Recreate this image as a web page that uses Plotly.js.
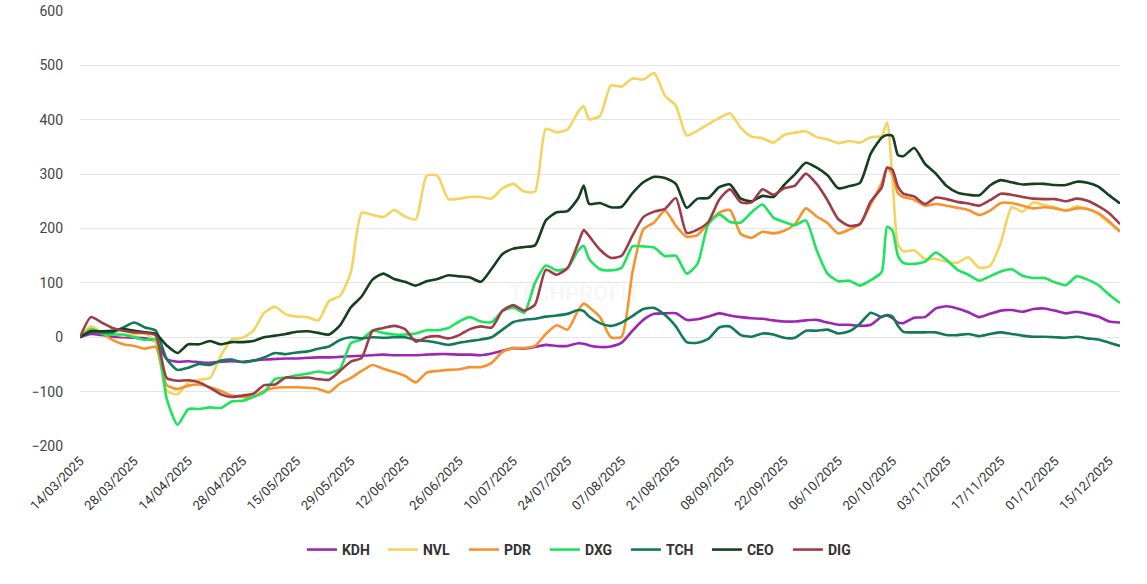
<!DOCTYPE html>
<html>
<head>
<meta charset="utf-8">
<script src="https://cdn.plot.ly/plotly-3.0.1.min.js"></script>
<style>
  html, body { margin: 0; padding: 0; background: #ffffff; }
  #chart { width: 1147px; height: 584px; }
</style>
</head>
<body>
<div id="chart"></div>
<script>
// ---- Trading calendar (HOSE trading days) ----
const firstDay = [2025, 3, 14];
const lastDay = [2025, 12, 17];
const holidays = ['07/04/2025', '30/04/2025', '01/05/2025', '02/05/2025', '01/09/2025', '02/09/2025'];

function fmt(d) {
  const dd = String(d.getUTCDate()).padStart(2, '0');
  const mm = String(d.getUTCMonth() + 1).padStart(2, '0');
  return dd + '/' + mm + '/' + d.getUTCFullYear();
}
const dates = [];
for (let d = new Date(Date.UTC(firstDay[0], firstDay[1] - 1, firstDay[2]));
     d <= new Date(Date.UTC(lastDay[0], lastDay[1] - 1, lastDay[2]));
     d.setUTCDate(d.getUTCDate() + 1)) {
  const wd = d.getUTCDay();
  const s = fmt(d);
  if (wd === 0 || wd === 6 || holidays.includes(s)) continue;
  dates.push(s);
}

// x-axis tick labels
const tickLabels = ['14/03/2025', '28/03/2025', '14/04/2025', '28/04/2025', '15/05/2025',
  '29/05/2025', '12/06/2025', '26/06/2025', '10/07/2025', '24/07/2025', '07/08/2025',
  '21/08/2025', '08/09/2025', '22/09/2025', '06/10/2025', '20/10/2025', '03/11/2025',
  '17/11/2025', '01/12/2025', '15/12/2025'];

// sampled sessions: every second session plus a few spike days
const extraDates = ['29/07/2025', '17/10/2025', '21/10/2025'];
const sampleDates = dates.filter((d, i) => i % 2 === 0 || extraDates.includes(d));

// ---- Series (% change from 14/03/2025) ----
const KDH = [0, 6, 4, 1, 0, -1, -2, -8, -40, -45,
  -44, -46, -47, -45, -44, -45, -43, -41, -40, -39,
  -39, -38, -37, -37, -36, -35, -34, -33, -32, -33,
  -33, -33, -32, -31, -31, -32, -32, -33, -30, -25,
  -20, -21, -18, -14, -16, -16, -11, -12, -15, -18, -17,
  -10, 12, 32, 43, 44, 44, 32, 33, 38, 44,
  40, 37, 35, 34, 31, 29, 29, 31, 32, 27,
  23, 23, 21, 23, 38, 40, 35, 27, 26, 36, 37, 53,
  57, 53, 46, 37, 43, 49, 50, 47, 52, 53,
  49, 44, 47, 43, 38, 29, 27];

const NVL = [0, 20, 9, 6, 3, 5, 7, -10, -98, -105,
  -83, -78, -75, -34, -4, -1, 12, 45, 56, 42,
  38, 37, 31, 67, 76, 120, 229, 225, 221, 234,
  222, 217, 297, 297, 254, 255, 258, 258, 255, 274,
  282, 268, 268, 383, 377, 382, 415, 425, 401, 407, 463,
  461, 476, 474, 486, 444, 426, 371, 380, 392, 403,
  412, 385, 369, 366, 358, 372, 376, 379, 368, 364,
  357, 361, 358, 368, 370, 395, 290, 170, 158, 160, 144, 144,
  139, 137, 147, 128, 131, 174, 239, 231, 248, 243,
  239, 233, 241, 236, 227, 210, 196];

const PDR = [0, 15, 8, -5, -13, -16, -21, -18, -88, -95,
  -89, -87, -92, -99, -107, -110, -109, -99, -93, -92,
  -92, -93, -95, -101, -85, -75, -62, -51, -58, -64,
  -71, -83, -65, -62, -60, -59, -55, -55, -47, -27,
  -20, -20, -16, 6, 22, 14, 50, 62, 55, 37, 0,
  1, 120, 198, 211, 233, 205, 185, 188, 210, 229,
  234, 190, 183, 194, 191, 196, 208, 237, 222, 210,
  191, 198, 208, 245, 283, 312, 300, 265, 258, 253, 242, 245,
  242, 238, 234, 225, 233, 247, 247, 242, 237, 239,
  237, 233, 237, 236, 228, 213, 194];

const DXG = [0, 14, 7, 5, 5, 0, -5, -4, -113, -161,
  -132, -132, -129, -130, -118, -117, -110, -101, -77, -74,
  -70, -67, -63, -66, -58, -11, -4, 12, 8, 5,
  5, 7, 13, 13, 17, 29, 37, 29, 28, 48,
  55, 45, 100, 132, 123, 127, 160, 168, 144, 125, 123,
  128, 167, 167, 165, 149, 150, 117, 135, 208, 226,
  212, 211, 230, 244, 220, 212, 206, 215, 160, 117,
  103, 104, 95, 105, 120, 203, 196, 150, 137, 135, 139, 156,
  142, 124, 115, 104, 112, 121, 125, 113, 109, 109,
  101, 96, 112, 106, 96, 78, 63];

const TCH = [0, 10, 9, 9, 18, 27, 18, 12, -40, -60,
  -56, -49, -51, -43, -41, -46, -43, -37, -29, -31,
  -28, -26, -21, -17, -5, 0, -2, 0, -1, 0,
  0, -5, -7, -10, -14, -10, -7, -4, 0, 14,
  28, 32, 34, 38, 40, 43, 50, 48, 38, 26, 21,
  27, 39, 52, 54, 41, 20, -9, -10, -3, 18,
  20, 4, 1, 7, 5, -1, -1, 12, 12, 14,
  7, 11, 25, 45, 37, 41, 38, 21, 10, 9, 9, 9,
  4, 4, 6, 2, 6, 9, 6, 3, 1, 1,
  0, -1, 1, -2, -4, -10, -16];

const CEO = [0, 11, 11, 12, 15, 12, 9, 6, -15, -29,
  -13, -13, -7, -13, -9, -9, -7, 0, 3, 6,
  10, 11, 8, 5, 22, 55, 75, 106, 117, 107,
  102, 95, 103, 107, 114, 112, 110, 102, 126, 153,
  163, 166, 169, 215, 230, 232, 256, 279, 245, 247, 239,
  240, 265, 285, 295, 293, 282, 238, 255, 256, 276,
  281, 255, 250, 260, 258, 280, 300, 321, 312, 298,
  274, 278, 284, 338, 367, 372, 370, 335, 333, 348, 319, 301,
  278, 266, 262, 261, 279, 289, 285, 281, 282, 282,
  280, 280, 286, 284, 277, 261, 246];

const DIG = [0, 37, 27, 17, 12, 9, 8, 3, -75, -80,
  -79, -83, -93, -105, -110, -107, -104, -88, -87, -74,
  -75, -74, -77, -78, -62, -45, -38, 12, 17, 21,
  15, -8, 0, 2, -2, 4, 15, 20, 18, 49,
  59, 49, 60, 124, 115, 127, 174, 197, 186, 161, 146,
  150, 187, 221, 231, 236, 256, 192, 198, 212, 253,
  272, 248, 248, 272, 262, 274, 279, 301, 282, 252,
  217, 205, 208, 250, 275, 312, 308, 277, 264, 259, 245, 257,
  254, 249, 246, 242, 252, 264, 262, 258, 255, 254,
  254, 250, 255, 251, 241, 228, 208];

const seriesNames = ['KDH', 'NVL', 'PDR', 'DXG', 'TCH', 'CEO', 'DIG'];
const seriesValues = [KDH, NVL, PDR, DXG, TCH, CEO, DIG];
const seriesColors = ['#9c27b0', '#f4d35e', '#f7922f', '#1ee35c', '#127a58', '#153f1e', '#9e3d48'];

const xIdx = sampleDates.map(d => dates.indexOf(d));
seriesValues.forEach((v, k) => {
  if (v.length !== xIdx.length) console.error(seriesNames[k] + ' length ' + v.length + ' vs ' + xIdx.length);
});

const traces = seriesNames.map((name, k) => ({
  type: 'scatter',
  mode: 'lines',
  name: name,
  x: xIdx,
  y: seriesValues[k],
  line: { color: seriesColors[k], width: 2.6, shape: 'spline', smoothing: 0.6 },
  hoverinfo: 'skip'
}));

const layout = {
  width: 1147,
  height: 584,
  paper_bgcolor: '#ffffff',
  plot_bgcolor: '#ffffff',
  margin: { l: 80, r: 27, t: 11, b: 138 },
  font: { family: 'Roboto, Arial, sans-serif', color: '#333' },
  xaxis: {
    type: 'linear',
    range: [0, dates.length - 1],
    tickmode: 'array',
    tickvals: tickLabels.map(l => dates.indexOf(l)),
    ticktext: tickLabels,
    tickangle: -45,
    tickfont: { size: 13, color: '#333' },
    showgrid: false,
    zeroline: false,
    showline: false,
    ticks: '',
    ticklabelstandoff: 4,
    automargin: false
  },
  yaxis: {
    range: [-200, 600],
    tickmode: 'linear',
    tick0: 0,
    dtick: 100,
    tickfont: { size: 14, color: '#444' },
    gridcolor: '#e6e6e6',
    gridwidth: 1,
    zeroline: false,
    showline: false,
    ticks: '',
    ticklabelstandoff: 16,
    automargin: false
  },
  showlegend: true,
  legend: {
    orientation: 'h',
    x: 0.486,
    xanchor: 'center',
    y: -0.239,
    yanchor: 'middle',
    font: { size: 14, color: '#333', weight: 'bold' },
    entrywidth: 36,
    entrywidthmode: 'pixels',
    bgcolor: 'rgba(0,0,0,0)'
  },
  annotations: [{
    text: 'TECHPROFIT',
    xref: 'paper', yref: 'paper',
    x: 0.476, y: 0.317,
    showarrow: false,
    font: { size: 22, color: 'rgba(0,0,0,0.05)', weight: 'bold' }
  }]
};

Plotly.newPlot('chart', traces, layout, { staticPlot: true, displayModeBar: false });
</script>
</body>
</html>
